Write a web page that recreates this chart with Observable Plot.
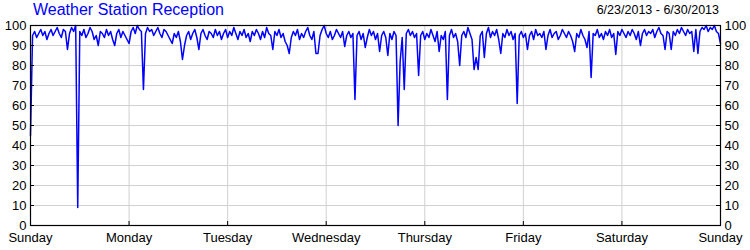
<!DOCTYPE html>
<html>
<head>
<meta charset="utf-8">
<script src="https://cdn.jsdelivr.net/npm/d3@7"></script>
<script src="https://cdn.jsdelivr.net/npm/@observablehq/plot@0.6"></script>
<style>
  html, body { margin: 0; padding: 0; background: #fff; }
  #wrap { position: relative; width: 750px; height: 250px; font-family: "Liberation Sans", Arial, sans-serif; }
  #title { position: absolute; left: 33px; top: 1px; font-size: 16px; color: #0000ff; white-space: nowrap; }
  #range { position: absolute; right: 31px; top: 3px; font-size: 12.5px; color: #000; white-space: nowrap; }
</style>
</head>
<body>
<div id="wrap">
  <div id="chart"></div>
  <div id="title"></div>
  <div id="range"></div>
</div>
<script>
const titleText = "Weather Station Reception";
const rangeText = "6/23/2013 - 6/30/2013";
const startDate = "2013-06-23T00:00:00Z";
const endDate = "2013-06-30T00:00:00Z";
const stepMinutes = 30;
const dayLabels = ["Sunday", "Monday", "Tuesday", "Wednesday", "Thursday", "Friday", "Saturday", "Sunday"];
const yTicks = [0, 10, 20, 30, 40, 50, 60, 70, 80, 90, 100];

// Reception percentage, one reading every 30 minutes
const sunday = [
  45, 95, 97, 94, 96, 98, 95, 97, 93, 96, 98, 95,
  97, 99, 96, 94, 98, 97, 88, 96, 99, 97, 100, 9,
  97, 95, 98, 94, 96, 99, 97, 93, 95, 90, 97, 96,
  94, 98, 95, 97, 93, 90, 96, 98, 94, 97, 95, 93
];
const monday = [
  91, 97, 99, 96, 100, 98, 97, 68, 96, 99, 97, 98,
  95, 97, 99, 96, 94, 98, 97, 95, 93, 91, 96, 94,
  97, 92, 83, 90, 95, 97, 93, 96, 98, 94, 88, 96,
  98, 95, 93, 97, 96, 94, 98, 95, 97, 93, 96, 98
];
const tuesday = [
  94, 97, 95, 99, 96, 93, 97, 95, 98, 94, 96, 92,
  97, 95, 98, 96, 93, 97, 94, 99, 96, 95, 88, 97,
  95, 98, 94, 96, 92, 90, 86, 94, 97, 95, 98, 93,
  96, 94, 97, 99, 95, 93, 97, 86, 86, 95, 98, 100
];
const wednesday = [
  96, 94, 97, 93, 95, 98, 96, 94, 97, 89.5, 95, 97,
  94, 96, 63, 95, 97, 93, 96, 89, 94, 98, 95, 97,
  93, 96, 87, 95, 97, 94, 85, 96, 93, 97, 95, 50,
  82, 94, 68, 96, 98, 95, 97, 94, 96, 75, 95, 97
];
const thursday = [
  93, 96, 94, 98, 95, 92, 97, 87, 95, 93, 97, 63,
  95, 98, 94, 96, 92, 80, 95, 97, 94, 99, 96, 93,
  78, 84, 78, 95, 97, 84, 96, 99, 94, 97, 95, 98,
  93, 86, 96, 94, 98, 95, 97, 93, 96, 61, 95, 97
];
const friday = [
  94, 96, 88, 95, 97, 93, 98, 95, 96, 94, 97, 88,
  95, 98, 94, 96, 97, 93, 95, 98, 96, 94, 97, 95,
  92, 87, 96, 94, 98, 95, 93, 89, 97, 74, 96, 95,
  98, 94, 96, 93, 97, 95, 98, 94, 96, 85.5, 97, 95
];
const saturday = [
  98, 96, 94, 97, 95, 98, 96, 93, 97, 90, 96, 98,
  95, 97, 96, 98, 94, 97, 99, 96, 95, 88, 97, 96,
  88, 97, 95, 98, 96, 99, 97, 95, 98, 96, 97, 87,
  98, 86, 97, 99, 98, 100, 97, 99, 98, 100, 97, 96, 91
];

const values = [...sunday, ...monday, ...tuesday, ...wednesday, ...thursday, ...friday, ...saturday];
const t0 = new Date(startDate);
const data = values.map((v, i) => ({date: d3.utcMinute.offset(t0, i * stepMinutes), value: v}));
const dayTicks = d3.utcDay.range(new Date(startDate), d3.utcDay.offset(new Date(endDate), 1));

document.getElementById("title").textContent = titleText;
document.getElementById("range").textContent = rangeText;

const W = 750, H = 250, mL = 30, mR = 30, mT = 25, mB = 25;
const innerW = W - mL - mR, innerH = H - mT - mB;
const tick = 4;

const chart = Plot.plot({
  width: W,
  height: H,
  marginLeft: mL,
  marginRight: mR,
  marginTop: mT,
  marginBottom: mB,
  style: {fontFamily: "'Liberation Sans', Arial, sans-serif", fontSize: "13px", background: "#fff", color: "#000", overflow: "visible"},
  x: {type: "utc", domain: [new Date(startDate), new Date(endDate)]},
  y: {domain: [0, 100]},
  marks: [
    Plot.gridX(dayTicks, {stroke: "#d0d0d0", strokeOpacity: 1}),
    Plot.gridY(yTicks, {stroke: "#d0d0d0", strokeOpacity: 1}),
    Plot.line(data, {x: "date", y: "value", stroke: "#0000ff", strokeWidth: 1.5}),
    Plot.frame({stroke: "#000", strokeWidth: 1.2}),
    Plot.tickY(yTicks, {y: d => d, insetRight: innerW - tick, stroke: "#000"}),
    Plot.tickY(yTicks, {y: d => d, insetLeft: innerW - tick, stroke: "#000"}),
    Plot.tickX(dayTicks, {x: d => d, insetTop: innerH - tick, stroke: "#000"}),
    Plot.axisY(yTicks, {anchor: "left", tickSize: 0, tickPadding: 4, label: null, fill: "#000", fontSize: 13}),
    Plot.axisY(yTicks, {anchor: "right", tickSize: 0, tickPadding: 4, label: null, fill: "#000", fontSize: 13}),
    Plot.axisX(dayTicks, {anchor: "bottom", tickSize: 0, tickPadding: 7, label: null, fill: "#000", fontSize: 13,
      tickFormat: (d, i) => dayLabels[i]})
  ]
});
document.getElementById("chart").appendChild(chart);
</script>
</body>
</html>
